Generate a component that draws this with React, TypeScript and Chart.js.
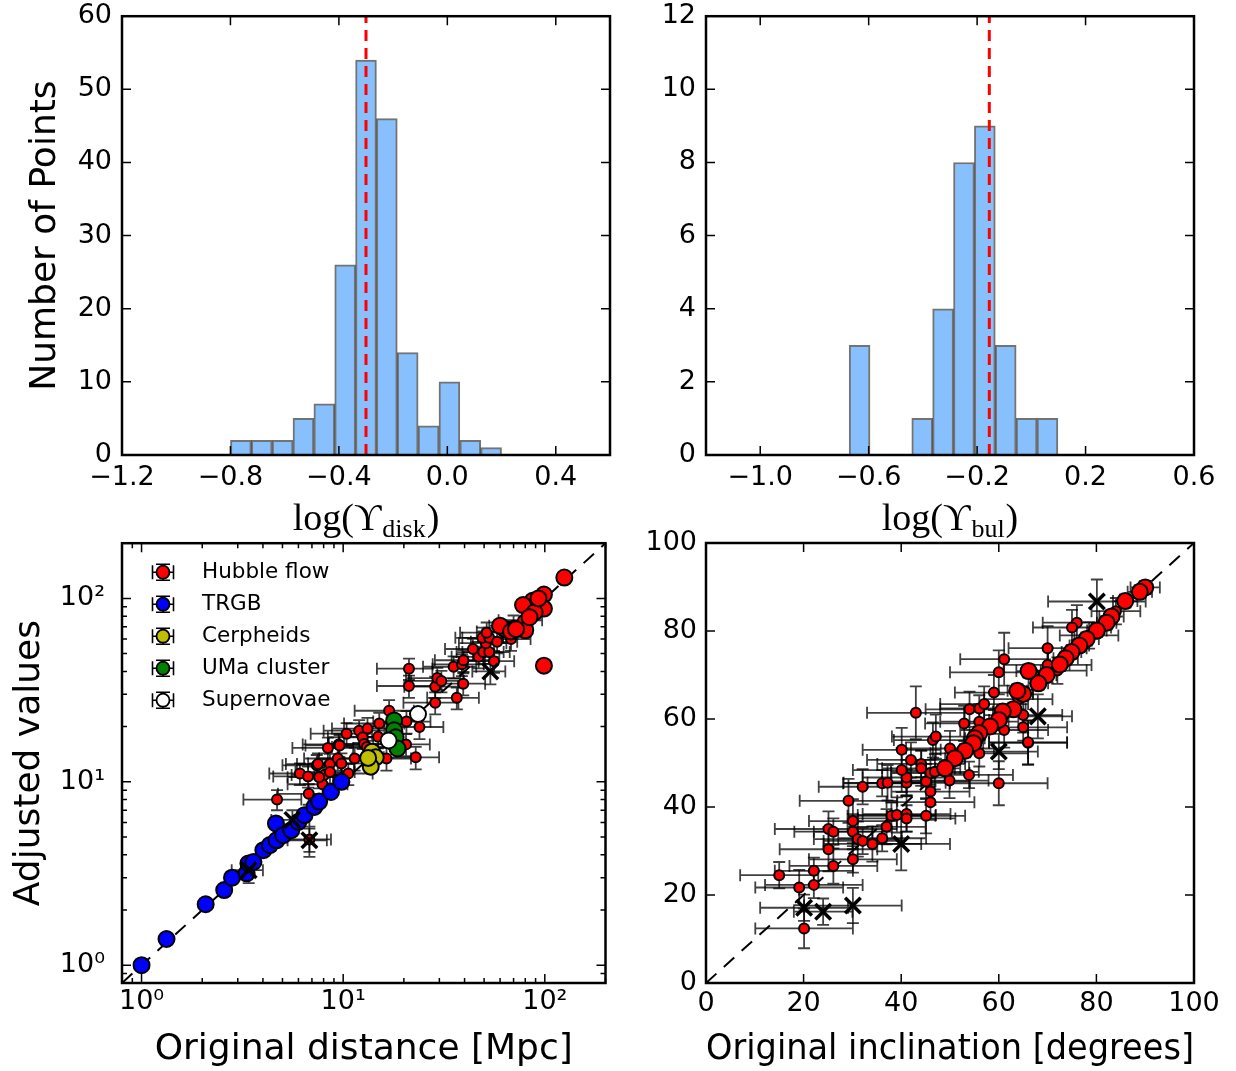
import React, { useEffect, useRef } from 'react';
import { Chart, registerables } from 'chart.js';

Chart.register(...registerables);

const SANS = '"DejaVu Sans", sans-serif';
const SERIF = '"Liberation Serif", "DejaVu Serif", serif';

// ---------------- Histogram data ----------------
const DISK_BIN_CENTERS = [-0.7615, -0.6846, -0.6077, -0.5308, -0.4538, -0.3769, -0.3, -0.2231, -0.1462, -0.0692, 0.0077, 0.0846, 0.1615];
const DISK_COUNTS = [2, 2, 2, 5, 7, 26, 54, 46, 14, 4, 10, 2, 1];
const DISK_MEDIAN = -0.3;
const DISK_X_TICKS = [-1.2, -0.8, -0.4, 0.0, 0.4];

const BUL_BIN_CENTERS = [-0.6335, -0.5565, -0.4795, -0.4025, -0.3255, -0.2485, -0.1715, -0.0945, -0.0175, 0.0595];
const BUL_COUNTS = [3, 0, 0, 1, 4, 8, 9, 3, 1, 1];
const BUL_MEDIAN = -0.155;
const BUL_X_TICKS = [-1.0, -0.6, -0.2, 0.2, 0.6];

// ---------------- Distance panel data ----------------
const LOG_TICKS = [0.8, 0.9, 1, 2, 3, 4, 5, 6, 7, 8, 9, 10, 20, 30, 40, 50, 60, 70, 80, 90, 100, 200];

const DIST_SMALL_X = [4.7, 6.8, 6.75, 6.1, 6.7, 7.4, 8.05, 7.9, 7.5, 8.4, 8.6, 9.4, 9.5, 9.8, 10.4, 10.6, 11.4, 12.0, 12.5, 12.7, 13.2, 13.1, 14.9, 15.1, 16.9, 16.4, 20.6, 20.5, 22.9, 23.9, 21.2, 21.2, 28.6, 29.3, 30.7, 28.6, 36.6, 35.3, 38.8, 39.4, 39.5, 47.0, 49.5, 53.0, 51.0, 49.0, 53.0, 51.5, 58.0, 56.0, 68.0, 78.0, 9.6, 7.6, 8.6, 62.0, 70.0, 44.0];
const DIST_SMALL_Y = [8.0, 4.85, 8.6, 11.1, 10.7, 12.3, 10.9, 9.7, 12.5, 15.3, 12.5, 13.4, 16.0, 12.6, 18.3, 11.1, 13.4, 19.0, 17.5, 16.1, 19.5, 15.5, 17.6, 20.8, 24.4, 13.4, 21.3, 16.0, 13.6, 19.9, 41.4, 33.3, 33.0, 36.8, 35.5, 27.0, 28.7, 42.4, 43.7, 34.3, 46.0, 48.0, 51.0, 51.0, 57.0, 61.0, 61.0, 65.0, 58.0, 45.5, 60.0, 76.0, 15.8, 10.6, 11.3, 66.0, 71.0, 53.0];
const DIST_SMALL_XERR = [1.5, 1.9, 2.0, 1.8, 2.2, 2.4, 2.5, 2.6, 2.3, 2.8, 2.7, 3.0, 3.2, 3.1, 3.5, 3.4, 3.8, 4.0, 4.1, 4.2, 4.4, 4.3, 4.8, 5.0, 5.5, 5.3, 6.5, 6.4, 7.0, 7.5, 6.5, 6.5, 8.5, 8.8, 9.0, 8.7, 10.5, 10.4, 11.0, 11.2, 11.0, 12.5, 13.0, 14.0, 13.5, 13.0, 14.0, 13.5, 15.0, 14.5, 17.0, 19.0, 3.1, 2.3, 2.8, 16.0, 17.0, 12.0];
const DIST_SMALL_YERR = [1.0, 0.7, 1.1, 1.5, 1.4, 1.7, 1.5, 1.3, 1.8, 2.1, 1.7, 1.9, 2.3, 1.7, 2.6, 1.5, 1.9, 2.7, 2.4, 2.2, 2.8, 2.1, 2.4, 3.0, 3.5, 1.9, 3.0, 2.2, 1.9, 2.8, 5.5, 4.6, 4.5, 5.0, 4.8, 3.7, 3.9, 5.9, 6.0, 4.7, 6.3, 6.5, 7.0, 7.0, 7.8, 8.3, 8.3, 8.9, 7.9, 6.2, 8.2, 10.0, 2.2, 1.4, 1.5, 9.0, 9.7, 7.2];

const DIST_HF_X = [125, 99, 99, 87, 78, 80, 89, 84, 64, 60, 68, 72, 99, 93];
const DIST_HF_Y = [130, 105, 88, 97, 92, 67, 84, 79, 68, 71, 66, 68, 43, 100];
const DIST_HF_XERR = [6, 5, 5, 4, 4, 4, 4, 4, 3, 3, 3, 3, 5, 4];
const DIST_HF_YERR = [6, 5, 4, 5, 4, 3, 4, 4, 3, 3, 3, 3, 2, 5];

const DIST_TRGB_X = [1.0, 1.33, 2.08, 2.57, 2.81, 3.32, 3.39, 3.59, 4.02, 4.33, 4.64, 4.67, 5.04, 5.53, 6.0, 6.43, 7.2, 7.6, 8.7, 9.8];
const DIST_TRGB_Y = [1.0, 1.39, 2.15, 2.57, 3.0, 3.17, 3.59, 3.66, 4.24, 4.52, 5.93, 4.8, 5.12, 5.45, 6.05, 6.58, 7.3, 7.8, 8.8, 10.0];

const DIST_CEPH_X = [13.9, 14.5, 13.7, 13.3];
const DIST_CEPH_Y = [14.6, 13.6, 12.1, 13.5];

const DIST_UMA_X = [17.9, 17.9, 18.2, 18.6];
const DIST_UMA_Y = [21.6, 19.1, 17.5, 15.2];

const DIST_SN_X = [23.5, 16.8];
const DIST_SN_Y = [23.4, 16.8];

const DIST_REJ_X = [53.7, 6.8, 5.6, 3.4];
const DIST_REJ_Y = [40.0, 4.8, 6.2, 3.3];
const DIST_REJ_XERR = [10, 1.5, 1.2, 0.6];
const DIST_REJ_YERR = [6, 0.9, 0.8, 0.5];

const LEGEND_LABELS = ['Hubble flow', 'TRGB', 'Cerpheids', 'UMa cluster', 'Supernovae'];
const LEGEND_COLORS = ['#ff0000', '#0000ff', '#bfbf00', '#008000', '#ffffff'];

// ---------------- Inclination panel data ----------------
const INC_SMALL_X = [20.1, 15.0, 19.1, 22.1, 22.1, 26.1, 30.1, 25.1, 25.1, 26.1, 30.1, 30.1, 31.1, 32.1, 34.1, 36.1, 37.0, 38.0, 39.1, 41.1, 41.1, 45.1, 29.2, 32.1, 36.1, 37.2, 41.1, 41.1, 40.1, 42.0, 40.1, 44.1, 44.1, 45.1, 46.0, 46.0, 46.0, 46.9, 49.9, 53.9, 60.0, 66.0, 50.0, 56.0, 46.5, 43.0, 47.1, 52.9, 61.1, 60.0, 70.0, 76.0, 75.0, 70.0, 59.0, 54.0, 56.0, 57.0, 56.0, 61.1, 65.0, 65.0, 66.0, 72.0, 78.5, 84.0, 64.0];
const INC_SMALL_Y = [12.4, 24.5, 21.7, 25.5, 22.3, 26.6, 28.1, 30.4, 35.0, 34.4, 36.8, 34.4, 32.7, 32.3, 31.6, 32.9, 35.5, 38.0, 38.2, 38.4, 37.4, 38.0, 41.4, 44.6, 45.4, 45.5, 45.5, 46.7, 48.4, 50.7, 53.0, 49.8, 48.8, 45.8, 43.5, 41.1, 47.7, 48.0, 46.0, 47.3, 45.4, 54.6, 53.3, 52.2, 55.2, 61.4, 56.0, 59.0, 73.6, 70.6, 76.1, 81.9, 80.8, 72.3, 66.0, 62.2, 62.4, 63.4, 59.4, 57.5, 60.9, 58.1, 54.7, 71.0, 79.0, 84.5, 64.5];
const INC_SMALL_XERR = [10, 8, 9, 8, 10, 9, 9, 10, 11, 8, 9, 8, 9, 8, 10, 9, 8, 9, 8, 9, 10, 8, 10, 9, 8, 9, 8, 9, 10, 9, 8, 9, 8, 9, 8, 9, 8, 9, 8, 9, 10, 8, 9, 10, 8, 10, 9, 8, 9, 10, 8, 7, 8, 9, 8, 9, 8, 9, 8, 9, 8, 9, 8, 6, 6, 5, 7];
const INC_SMALL_YERR = [4.5, 3, 4, 3, 3, 4, 3, 5, 4, 3, 5, 4, 4, 3, 4, 3, 4, 3, 4, 4, 3, 4, 5, 4, 3, 4, 3, 4, 5, 4, 5, 3, 4, 4, 3, 4, 3, 4, 4, 3, 5, 5, 4, 3, 4, 6, 5, 4, 6, 5, 5, 4, 4, 4, 4, 4, 3, 4, 4, 4, 4, 3, 5, 3, 3, 3, 3];

const INC_BIG_X = [90.0, 88.9, 85.9, 83.1, 82.1, 80.1, 78.0, 76.5, 74.9, 73.7, 72.5, 69.8, 68.1, 66.1, 65.0, 63.8, 63.0, 60.8, 60.0, 58.2, 56.0, 55.1, 54.8, 53.1, 51.0, 49.0];
const INC_BIG_Y = [89.9, 88.9, 86.8, 83.3, 81.9, 80.1, 78.2, 76.7, 75.2, 73.8, 72.4, 70.0, 68.1, 70.9, 65.7, 66.4, 62.2, 61.7, 59.8, 58.3, 56.8, 55.6, 54.5, 52.8, 51.1, 48.8];
const INC_BIG_XERR = [3, 2.5, 2.5, 2.5, 2, 2, 2.5, 2, 2, 2.5, 2, 2, 2, 2.5, 2, 2, 2.5, 2, 2, 2.5, 2, 2, 2, 2.5, 2, 2];
const INC_BIG_YERR = [1.5, 1.5, 1.5, 1.5, 1.5, 1.5, 1.5, 1.5, 1.5, 1.5, 1.5, 1.5, 1.5, 1.5, 1.5, 1.5, 1.5, 1.5, 1.5, 1.5, 1.5, 1.5, 1.5, 1.5, 1.5, 1.5];

const INC_REJ_X = [20.1, 24.0, 30.1, 40.0, 60.0, 68.0, 80.1];
const INC_REJ_Y = [17.1, 16.2, 17.6, 31.6, 52.6, 60.6, 86.7];
const INC_REJ_XERR = [9, 6, 10, 10, 8, 7, 10];
const INC_REJ_YERR = [3, 3, 4, 6, 4, 5, 5];

// ---------------- helpers ----------------
const pts = (xs: number[], ys: number[]) => xs.map((x, i) => ({ x, y: ys[i] }));
const fmtSigned = (v: number) => (v < -1e-9 ? '\u2212' : '') + Math.abs(v).toFixed(1);
const LOG_LABELS: Record<string, string> = { '1': '10\u2070', '10': '10\u00b9', '100': '10\u00b2' };

// inward ticks on all four sides + frame
const frameTicksPlugin = {
  id: 'frameTicks',
  afterDraw(chart: any) {
    const { ctx, chartArea: a } = chart;
    const xs = chart.scales.x;
    const ys = chart.scales.y;
    ctx.save();
    ctx.strokeStyle = '#000';
    ctx.lineWidth = 1.5;
    ctx.beginPath();
    xs.ticks.forEach((t: any) => {
      const px = xs.getPixelForValue(t.value);
      const len = t.label ? 9 : 5;
      ctx.moveTo(px, a.bottom);
      ctx.lineTo(px, a.bottom - len);
      ctx.moveTo(px, a.top);
      ctx.lineTo(px, a.top + len);
    });
    ys.ticks.forEach((t: any) => {
      const py = ys.getPixelForValue(t.value);
      const len = t.label ? 9 : 5;
      ctx.moveTo(a.left, py);
      ctx.lineTo(a.left + len, py);
      ctx.moveTo(a.right, py);
      ctx.lineTo(a.right - len, py);
    });
    ctx.stroke();
    ctx.lineWidth = 2.5;
    ctx.strokeRect(a.left, a.top, a.right - a.left, a.bottom - a.top);
    ctx.restore();
  },
};

// error bars from per-dataset errX / errY arrays
const errorBarPlugin = {
  id: 'errorBars',
  beforeDatasetsDraw(chart: any) {
    const { ctx, chartArea: a } = chart;
    const xs = chart.scales.x;
    const ys = chart.scales.y;
    ctx.save();
    ctx.beginPath();
    ctx.rect(a.left, a.top, a.right - a.left, a.bottom - a.top);
    ctx.clip();
    ctx.strokeStyle = 'rgba(0,0,0,0.75)';
    ctx.lineWidth = 1.8;
    const cap = 6;
    chart.data.datasets.forEach((ds: any) => {
      if (!ds.errX && !ds.errY) return;
      ds.data.forEach((p: any, i: number) => {
        const cx = xs.getPixelForValue(p.x);
        const cy = ys.getPixelForValue(p.y);
        const ex = ds.errX ? ds.errX[i] : 0;
        const ey = ds.errY ? ds.errY[i] : 0;
        ctx.beginPath();
        if (ex > 0) {
          const lo = Math.max(p.x - ex, p.x * 0.05);
          const x1 = xs.getPixelForValue(lo);
          const x2 = xs.getPixelForValue(p.x + ex);
          ctx.moveTo(x1, cy); ctx.lineTo(x2, cy);
          ctx.moveTo(x1, cy - cap); ctx.lineTo(x1, cy + cap);
          ctx.moveTo(x2, cy - cap); ctx.lineTo(x2, cy + cap);
        }
        if (ey > 0) {
          const lo = Math.max(p.y - ey, p.y * 0.05);
          const y1 = ys.getPixelForValue(lo);
          const y2 = ys.getPixelForValue(p.y + ey);
          ctx.moveTo(cx, y1); ctx.lineTo(cx, y2);
          ctx.moveTo(cx - cap, y1); ctx.lineTo(cx + cap, y1);
          ctx.moveTo(cx - cap, y2); ctx.lineTo(cx + cap, y2);
        }
        ctx.stroke();
      });
    });
    ctx.restore();
  },
};

// legend drawn in the upper-left corner of the plot area (matplotlib style)
const cornerLegendPlugin = {
  id: 'cornerLegend',
  afterDraw(chart: any, _args: any, opts: any) {
    if (!opts || !opts.labels) return;
    const { ctx, chartArea: a } = chart;
    ctx.save();
    opts.labels.forEach((label: string, i: number) => {
      const cy = a.top + 29 + 32 * i;
      const cx = a.left + 41;
      ctx.strokeStyle = '#000';
      ctx.lineWidth = 1.6;
      ctx.beginPath();
      ctx.moveTo(cx - 10.5, cy); ctx.lineTo(cx + 10.5, cy);
      ctx.moveTo(cx - 10.5, cy - 7); ctx.lineTo(cx - 10.5, cy + 7);
      ctx.moveTo(cx + 10.5, cy - 7); ctx.lineTo(cx + 10.5, cy + 7);
      ctx.moveTo(cx, cy - 8); ctx.lineTo(cx, cy + 8);
      ctx.moveTo(cx - 7, cy - 8); ctx.lineTo(cx + 7, cy - 8);
      ctx.moveTo(cx - 7, cy + 8); ctx.lineTo(cx + 7, cy + 8);
      ctx.stroke();
      ctx.beginPath();
      ctx.arc(cx, cy, 6.5, 0, Math.PI * 2);
      ctx.fillStyle = opts.colors[i];
      ctx.fill();
      ctx.lineWidth = 1.8;
      ctx.stroke();
      ctx.fillStyle = '#000';
      ctx.font = `21.5px ${SANS}`;
      ctx.textAlign = 'left';
      ctx.textBaseline = 'middle';
      ctx.fillText(label, a.left + 80, cy);
    });
    ctx.restore();
  },
};

// math-style x label: log(Υ_sub)
const mathLabelPlugin = {
  id: 'mathLabel',
  afterDraw(chart: any, _args: any, opts: any) {
    if (!opts || !opts.sub) return;
    const { ctx, chartArea: a } = chart;
    const main = 'log(\u03d2';
    const tail = ')';
    const big = `38px ${SERIF}`;
    const small = `26px ${SERIF}`;
    ctx.save();
    ctx.fillStyle = '#000';
    ctx.textBaseline = 'alphabetic';
    ctx.textAlign = 'left';
    ctx.font = big;
    const w1 = ctx.measureText(main).width;
    const w3 = ctx.measureText(tail).width;
    ctx.font = small;
    const w2 = ctx.measureText(opts.sub).width;
    const total = w1 + w2 + w3 + 2;
    let x = (a.left + a.right) / 2 - total / 2;
    const base = a.bottom + 75;
    ctx.font = big;
    ctx.fillText(main, x, base);
    x += w1 + 1;
    ctx.font = small;
    ctx.fillText(opts.sub, x, base + 7);
    x += w2 + 1;
    ctx.font = big;
    ctx.fillText(tail, x, base);
    ctx.restore();
  },
};

const tickFont = { family: SANS, size: 27 };
const titleFont = { family: SANS, size: 36 };

function histConfig(centers: number[], counts: number[], median: number, yMax: number, yStep: number,
  xTicks: number[], yTitle: string, yAxisWidth: number, padRight: number, sub: string) {
  return {
    type: 'bar',
    data: {
      datasets: [
        {
          type: 'line',
          data: [{ x: median, y: 0 }, { x: median, y: yMax }],
          borderColor: '#ff0000',
          borderWidth: 3,
          borderDash: [11, 7],
          pointRadius: 0,
          order: 0,
        },
        {
          type: 'bar',
          data: pts(centers, counts),
          backgroundColor: '#88c0fd',
          borderColor: 'rgba(0,0,0,0.55)',
          borderWidth: 2,
          barPercentage: 1,
          categoryPercentage: 1,
          order: 1,
        },
      ],
    },
    options: {
      responsive: false,
      maintainAspectRatio: false,
      animation: false,
      events: [],
      layout: { padding: { top: 15, right: padRight, bottom: 0, left: 0 } },
      plugins: {
        legend: { display: false },
        tooltip: { enabled: false },
        mathLabel: { sub },
      },
      scales: {
        x: {
          type: 'linear',
          min: -1.2,
          max: 0.6,
          offset: false,
          grid: { display: false, drawTicks: false },
          border: { display: false },
          afterBuildTicks: (s: any) => { s.ticks = xTicks.map((v) => ({ value: v })); },
          afterFit: (s: any) => { s.height = 105; },
          ticks: { autoSkip: false, maxRotation: 0, padding: 7, font: tickFont, color: '#000', callback: (v: any) => fmtSigned(Number(v)) },
        },
        y: {
          min: 0,
          max: yMax,
          grid: { display: false, drawTicks: false },
          border: { display: false },
          afterFit: (s: any) => { s.width = yAxisWidth; },
          ticks: { stepSize: yStep, padding: 10, font: tickFont, color: '#000', callback: (v: any) => String(v) },
          title: { display: !!yTitle, text: yTitle, font: titleFont, color: '#000', padding: { top: 24, bottom: 0 } },
        },
      },
    },
    plugins: [frameTicksPlugin, mathLabelPlugin],
  };
}

function circleSet(xs: number[], ys: number[], color: string, radius: number, order: number, errX?: number[], errY?: number[]) {
  return {
    data: pts(xs, ys),
    backgroundColor: color,
    borderColor: '#000',
    borderWidth: 2,
    pointRadius: radius,
    pointHoverRadius: radius,
    order,
    errX,
    errY,
  };
}

function crossSet(xs: number[], ys: number[], errX: number[], errY: number[]) {
  return {
    data: pts(xs, ys),
    pointStyle: 'crossRot',
    borderColor: '#000',
    backgroundColor: '#000',
    borderWidth: 3.5,
    pointRadius: 11,
    pointHoverRadius: 11,
    order: 0,
    errX,
    errY,
  };
}

function diagSet(lo: number, hi: number) {
  return {
    type: 'line',
    data: [{ x: lo, y: lo }, { x: hi, y: hi }],
    showLine: true,
    borderColor: '#000',
    borderWidth: 2,
    borderDash: [14, 10],
    pointRadius: 0,
    order: 10,
  };
}

function distConfig() {
  const logAxis = (title: string, isX: boolean) => ({
    type: 'logarithmic',
    min: 0.8,
    max: 200,
    grid: { display: false, drawTicks: false },
    border: { display: false },
    afterBuildTicks: (s: any) => { s.ticks = LOG_TICKS.map((v) => ({ value: v })); },
    afterFit: (s: any) => { if (isX) s.height = 88; else s.width = 122; },
    ticks: { autoSkip: false, maxRotation: 0, padding: isX ? 3 : 17, font: tickFont, color: '#000', callback: (v: any) => LOG_LABELS[String(v)] || '' },
    title: { display: true, text: title, font: titleFont, color: '#000', padding: isX ? { top: 0, bottom: 0 } : { top: 8, bottom: 0 } },
  });
  return {
    type: 'scatter',
    data: {
      datasets: [
        diagSet(0.8, 200),
        circleSet(DIST_SMALL_X, DIST_SMALL_Y, '#ff0000', 5, 6, DIST_SMALL_XERR, DIST_SMALL_YERR),
        circleSet(DIST_HF_X, DIST_HF_Y, '#ff0000', 8, 5, DIST_HF_XERR, DIST_HF_YERR),
        circleSet(DIST_TRGB_X, DIST_TRGB_Y, '#0000ff', 8, 4),
        circleSet(DIST_CEPH_X, DIST_CEPH_Y, '#bfbf00', 8, 3),
        circleSet(DIST_UMA_X, DIST_UMA_Y, '#008000', 8, 2),
        circleSet(DIST_SN_X, DIST_SN_Y, '#ffffff', 8, 1),
        crossSet(DIST_REJ_X, DIST_REJ_Y, DIST_REJ_XERR, DIST_REJ_YERR),
      ],
    },
    options: {
      responsive: false,
      maintainAspectRatio: false,
      animation: false,
      events: [],
      layout: { padding: { top: 33, right: 10, bottom: 0, left: 0 } },
      plugins: {
        legend: { display: false },
        tooltip: { enabled: false },
        cornerLegend: { labels: LEGEND_LABELS, colors: LEGEND_COLORS },
      },
      scales: {
        x: logAxis('Original distance [Mpc]', true),
        y: logAxis('Adjusted values', false),
      },
    },
    plugins: [errorBarPlugin, frameTicksPlugin, cornerLegendPlugin],
  };
}

function incConfig() {
  const linAxis = (isX: boolean) => ({
    type: 'linear',
    min: 0,
    max: 100,
    grid: { display: false, drawTicks: false },
    border: { display: false },
    afterFit: (s: any) => { if (isX) s.height = 88; else s.width = 86; },
    ticks: { stepSize: 20, autoSkip: false, maxRotation: 0, padding: isX ? 5 : 9, font: tickFont, color: '#000', callback: (v: any) => String(v) },
    title: { display: isX, text: 'Original inclination [degrees]', font: titleFont, color: '#000', padding: { top: 0, bottom: 0 } },
  });
  return {
    type: 'scatter',
    data: {
      datasets: [
        diagSet(0, 100),
        circleSet(INC_SMALL_X, INC_SMALL_Y, '#ff0000', 5, 6, INC_SMALL_XERR, INC_SMALL_YERR),
        circleSet(INC_BIG_X, INC_BIG_Y, '#ff0000', 8, 5, INC_BIG_XERR, INC_BIG_YERR),
        crossSet(INC_REJ_X, INC_REJ_Y, INC_REJ_XERR, INC_REJ_YERR),
      ],
    },
    options: {
      responsive: false,
      maintainAspectRatio: false,
      animation: false,
      events: [],
      layout: { padding: { top: 28, right: 42, bottom: 0, left: 0 } },
      plugins: { legend: { display: false }, tooltip: { enabled: false } },
      scales: { x: linAxis(true), y: linAxis(false) },
    },
    plugins: [errorBarPlugin, frameTicksPlugin],
  };
}

function Panel({ make, left, top, width, height }: any) {
  const ref = useRef<HTMLCanvasElement>(null);
  useEffect(() => {
    const chart = new Chart(ref.current as HTMLCanvasElement, make());
    return () => chart.destroy();
  }, []);
  return (
    <canvas
      ref={ref}
      width={width}
      height={height}
      style={{ position: 'absolute', left, top, width, height }}
    />
  );
}

export default function App() {
  return (
    <div style={{ position: 'absolute', left: 0, top: 0, width: 1236, height: 1071, background: '#fff', overflow: 'hidden' }}>
      <Panel
        left={0} top={-10} width={620} height={570}
        make={() => histConfig(DISK_BIN_CENTERS, DISK_COUNTS, DISK_MEDIAN, 60, 10, DISK_X_TICKS, 'Number of Points', 122, 10, 'disk')}
      />
      <Panel
        left={620} top={-10} width={616} height={570}
        make={() => histConfig(BUL_BIN_CENTERS, BUL_COUNTS, BUL_MEDIAN, 12, 2, BUL_X_TICKS, '', 86, 42, 'bul')}
      />
      <Panel left={0} top={510} width={620} height={561} make={distConfig} />
      <Panel left={620} top={515} width={616} height={556} make={incConfig} />
    </div>
  );
}
